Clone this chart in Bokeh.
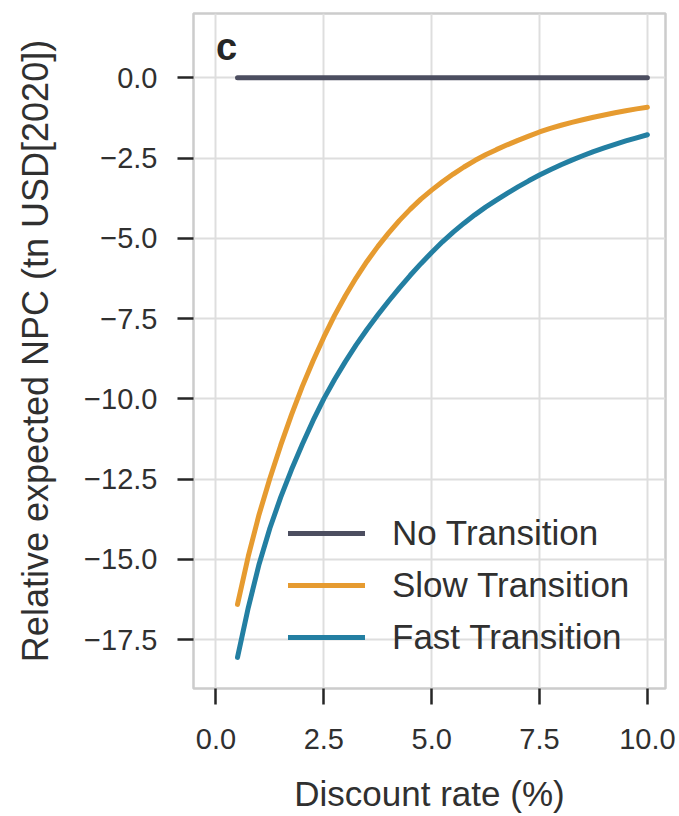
from bokeh.plotting import figure
from bokeh.models import FixedTicker, Label, Legend, LegendItem, Range1d
from bokeh.embed import file_html
from bokeh.resources import INLINE

# ---- data ----
discount_rate = [0.5, 0.75, 1.0, 1.25, 1.5, 1.75, 2.0, 2.25, 2.5, 2.75,
                 3.0, 3.25, 3.5, 3.75, 4.0, 4.25, 4.5, 4.75, 5.0, 5.25,
                 5.5, 5.75, 6.0, 6.25, 6.5, 6.75, 7.0, 7.25, 7.5, 7.75,
                 8.0, 8.25, 8.5, 8.75, 9.0, 9.25, 9.5, 9.75, 10.0]
no_transition = [0.0] * 39
slow_transition = [-16.4, -14.9, -13.6, -12.48, -11.45, -10.5, -9.62, -8.82, -8.08, -7.4,
                   -6.79, -6.23, -5.72, -5.26, -4.84, -4.45, -4.1, -3.78, -3.5, -3.24,
                   -3.0, -2.78, -2.58, -2.4, -2.24, -2.09, -1.95, -1.82, -1.69, -1.58,
                   -1.48, -1.39, -1.31, -1.23, -1.16, -1.09, -1.03, -0.97, -0.92]
fast_transition = [-18.05, -16.5, -15.15, -14.03, -13.07, -12.21, -11.42, -10.68, -10.0, -9.4,
                   -8.84, -8.32, -7.84, -7.39, -6.96, -6.55, -6.16, -5.79, -5.44, -5.11,
                   -4.81, -4.53, -4.27, -4.03, -3.81, -3.6, -3.4, -3.21, -3.03, -2.865,
                   -2.71, -2.565, -2.43, -2.3, -2.185, -2.075, -1.97, -1.87, -1.775]
series_names = ["No Transition", "Slow Transition", "Fast Transition"]
series_colors = ["#4c4e60", "#e69b30", "#237fa2"]

x_ticks = [0.0, 2.5, 5.0, 7.5, 10.0]
x_tick_labels = ["0.0", "2.5", "5.0", "7.5", "10.0"]
y_ticks = [0.0, -2.5, -5.0, -7.5, -10.0, -12.5, -15.0, -17.5]
y_tick_labels = ["0.0", "\u22122.5", "\u22125.0", "\u22127.5", "\u221210.0",
                 "\u221212.5", "\u221215.0", "\u221217.5"]

FONT = "Liberation Sans"
TXT = "#303030"

p = figure(width=679, height=816, output_backend="svg", toolbar_location=None,
           x_range=Range1d(-0.52, 10.42), y_range=Range1d(-19.02, 2.0),
           min_border_left=193, min_border_right=14, min_border_top=13,
           min_border_bottom=128)

p.outline_line_color = "#cccccc"
p.outline_line_width = 2.5
p.background_fill_color = "white"
p.border_fill_color = "white"

for g in (p.xgrid, p.ygrid):
    g.grid_line_color = "#dedede"
    g.grid_line_width = 2

p.xaxis.ticker = FixedTicker(ticks=x_ticks)
p.yaxis.ticker = FixedTicker(ticks=y_ticks)
p.xaxis.major_label_overrides = dict(zip(x_ticks, x_tick_labels))
p.yaxis.major_label_overrides = dict(zip(y_ticks, y_tick_labels))

for ax in (p.xaxis, p.yaxis):
    ax.axis_line_color = None
    ax.major_tick_line_color = "#262626"
    ax.major_tick_line_width = 2.5
    ax.major_tick_out = 16
    ax.major_tick_in = 0
    ax.minor_tick_line_color = None
    ax.major_label_text_font = FONT
    ax.major_label_text_font_size = "29px"
    ax.major_label_text_color = TXT
    ax.axis_label_text_font = FONT
    ax.axis_label_text_font_style = "normal"
    ax.axis_label_text_color = TXT

p.xaxis.axis_label = "Discount rate (%)"
p.yaxis.axis_label = "Relative expected NPC (tn USD[2020])"
p.xaxis.axis_label_text_font_size = "35px"
p.yaxis.axis_label_text_font_size = "36px"
p.yaxis.major_label_standoff = 20
p.xaxis.major_label_standoff = 24
p.yaxis.axis_label_standoff = 25
p.xaxis.axis_label_standoff = 22

renderers = []
for ys, color in zip([no_transition, slow_transition, fast_transition], series_colors):
    r = p.line(discount_rate, ys, line_color=color, line_width=5, line_cap="round",
               line_join="round")
    renderers.append(r)

legend = Legend(items=[LegendItem(label=n, renderers=[r]) for n, r in zip(series_names, renderers)],
                location=(95, 31), padding=0, margin=0, spacing=12,
                glyph_width=77, glyph_height=40, label_height=40,
                label_standoff=27, label_text_font=FONT, label_text_font_size="35px",
                label_text_color=TXT, border_line_color=None,
                background_fill_alpha=0)
p.add_layout(legend)

p.add_layout(Label(x=0.0, y=0.95, text="c", text_font=FONT, text_font_size="38px",
                   text_font_style="bold", text_color="#262626",
                   text_baseline="alphabetic", text_align="left"))

open("out.html", "w").write(file_html(p, INLINE))
